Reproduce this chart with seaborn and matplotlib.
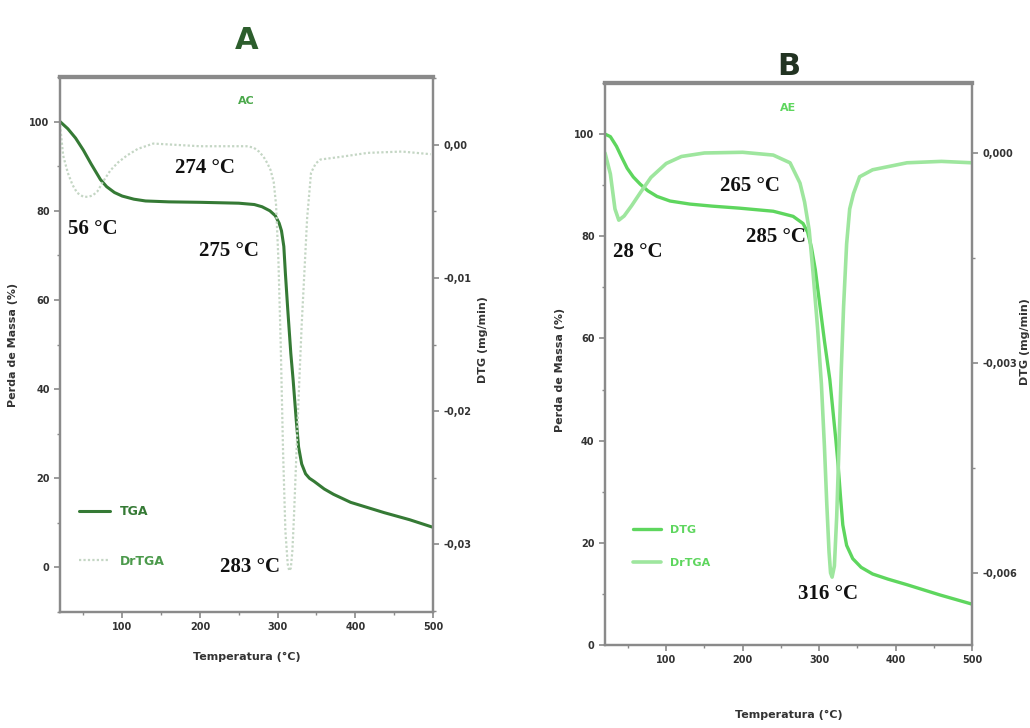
import numpy as np
import pandas as pd
import seaborn as sns
import matplotlib
matplotlib.use("Agg")
import matplotlib.pyplot as plt
from matplotlib.ticker import FuncFormatter, AutoMinorLocator

sns.set_theme(style="white")
plt.rcParams['font.family'] = ['Liberation Sans Narrow', 'DejaVu Sans']

# ---------------- Data: panel A (AC) ----------------
a_tga_T = [20, 30, 40, 50, 60, 72, 80, 90, 100, 115, 130, 160, 200, 250, 270, 280, 290, 297, 302, 305, 308, 310, 313,
           317, 320, 324, 327, 331, 336, 341, 347, 360, 372, 394, 437, 470, 500]
a_tga_m = [100, 98.4, 96.3, 93.6, 90.5, 87.0, 85.4, 84.1, 83.3, 82.6, 82.2, 82.0, 81.9, 81.7, 81.4, 80.9, 80.0, 78.9,
           77.2, 75.5, 72, 66, 58, 48, 42, 33, 27, 23.2, 21, 20.0, 19.3, 17.6, 16.4, 14.6, 12.3, 10.7, 9]

a_dtg_T = [20, 24, 30, 36, 42, 50, 56, 62, 68, 76, 85, 95, 106, 120, 140, 200, 260, 269, 276, 282, 287, 291, 295, 298,
           301, 304, 307, 310, 313, 315, 317, 319, 321, 324, 327, 331, 334, 338, 343, 349, 355, 368, 381, 416, 460, 497]
a_dtg_v = [0.0015, -0.0008, -0.0021, -0.0030, -0.0036, -0.0039, -0.0039, -0.0038, -0.0035, -0.0027, -0.0019, -0.0013,
           -0.0008, -0.0003, 0.0001, -0.0001, -0.0001, -0.0002, -0.0005, -0.0009, -0.0014, -0.0019, -0.0028, -0.0045,
           -0.0086, -0.0150, -0.0230, -0.0290, -0.0315, -0.0320, -0.0318, -0.0305, -0.0280, -0.0235, -0.0190, -0.0135,
           -0.0101, -0.0055, -0.0021, -0.0014, -0.0011, -0.0010, -0.0009, -0.0006, -0.0005, -0.0007]

# ---------------- Data: panel B (AE) ----------------
b_tga_T = [20, 27, 35, 42, 49, 57, 66, 76, 88, 105, 131, 160, 196, 240, 266, 279, 285, 290, 295, 301, 307, 314, 318,
           322, 325, 328, 331, 336, 344, 355, 370, 390, 415, 458, 500]
b_tga_m = [100, 99.5, 97.6, 95.4, 93.3, 91.6, 90.2, 88.9, 87.8, 86.9, 86.3, 85.9, 85.5, 84.9, 83.9, 82.5, 80.8, 77.8,
           73.5, 66.5, 59.5, 52, 46, 40, 35, 29, 23.5, 19.5, 16.9, 15.2, 13.9, 12.9, 11.8, 9.8, 8]

b_dtg_T = [20, 27, 33, 38, 45, 55, 66, 80, 100, 120, 150, 200, 240, 262, 275, 281, 287, 292, 298, 303, 307, 310, 313,
           315, 317, 320, 323, 326, 329, 332, 336, 340, 345, 353, 370, 415, 460, 500]
b_dtg_v = [0.0, -0.0003, -0.0008, -0.00096, -0.0009, -0.00075, -0.00057, -0.00035, -0.00015, -0.00005, 0.0, 0.00001,
           -0.00003, -0.00014, -0.00043, -0.0007, -0.0011, -0.0017, -0.0025, -0.0033, -0.0042, -0.0050, -0.0057,
           -0.0060, -0.00606, -0.0059, -0.0052, -0.0042, -0.0031, -0.0022, -0.0013, -0.0008, -0.00058, -0.00034,
           -0.00024, -0.00014, -0.00012, -0.00014]

x_ticks = [100, 200, 300, 400, 500]

spine_col = "#8a8a8a"
a_dark = "#357a35"
a_light = "#c4d6c4"
b_tga_col = "#5ed65e"
b_dtg_col = "#9ee69e"

fig = plt.figure(figsize=(10.3, 7.28), dpi=100)

def style_axes(ax, ax2):
    for a in (ax, ax2):
        for s in a.spines.values():
            s.set_color(spine_col)
            s.set_linewidth(1.6)
        a.spines['top'].set_linewidth(3)
    ax.tick_params(axis='both', which='major', direction='out', length=4, width=1.2, color=spine_col,
                   labelsize=7, labelcolor="#333333", left=True, bottom=True)
    ax.tick_params(axis='both', which='minor', direction='out', length=2.5, width=1, color=spine_col,
                   left=True, bottom=True)
    ax2.tick_params(axis='y', which='major', direction='out', length=4, width=1.2, color=spine_col,
                    labelsize=7, labelcolor="#333333", right=True)
    ax2.tick_params(axis='y', which='minor', direction='out', length=2.5, width=1, color=spine_col, right=True)
    for lab in ax.get_xticklabels() + ax.get_yticklabels() + ax2.get_yticklabels():
        lab.set_fontweight('bold')

ann_font = dict(family=['Liberation Serif', 'DejaVu Serif'], fontsize=15, fontweight='bold', color='#111111')

# ---------------- Panel A ----------------
axA = fig.add_axes([0.0583, 0.1593, 0.3621, 0.7349])
axA2 = axA.twinx()
sns.lineplot(x=a_tga_T, y=a_tga_m, ax=axA, color=a_dark, lw=2.2, label="TGA", legend=False)
sns.lineplot(x=a_dtg_T, y=a_dtg_v, ax=axA2, color=a_light, lw=1.6, linestyle=(0, (1, 1)), label="DrTGA", legend=False)
axA.set_xlim(20, 500)
axA.set_ylim(-10, 110)
axA2.set_ylim(-0.0351, 0.0051)
axA.set_xticks(x_ticks)
axA.set_yticks([0, 20, 40, 60, 80, 100])
axA.xaxis.set_minor_locator(AutoMinorLocator(2))
axA.yaxis.set_minor_locator(AutoMinorLocator(2))
axA2.set_yticks([0.0, -0.01, -0.02, -0.03])
axA2.yaxis.set_minor_locator(AutoMinorLocator(2))
axA2.yaxis.set_major_formatter(FuncFormatter(lambda v, p: f"{v:.2f}".replace('.', ',').replace('-0,00', '0,00')))
axA.set_xlabel("Temperatura (°C)", fontsize=8, fontweight='bold', color='#333333', labelpad=14)
axA.set_ylabel("Perda de Massa (%)", fontsize=8, fontweight='bold', color='#333333')
axA2.set_ylabel("DTG (mg/min)", fontsize=8, fontweight='bold', color='#333333')
axA.yaxis.set_label_coords(-0.113, 0.5)
axA2.yaxis.set_label_coords(1.12, 0.51)
style_axes(axA, axA2)
hA = axA.get_lines() + axA2.get_lines()
legA = axA.legend(hA, ["TGA", "DrTGA"], loc='lower left', bbox_to_anchor=(0.02, 0.062), frameon=False,
                  fontsize=9, handlelength=2.5, labelspacing=2.9, labelcolor=[a_dark, "#4c9a4c"])
for t in legA.get_texts():
    t.set_fontweight('bold')
axA.set_title("A", fontsize=22, fontweight='bold', color="#2d5e2d", pad=20,
              family=['DejaVu Sans'])
axA.text(0.5, 0.955, "AC", transform=axA.transAxes, ha='center', va='center', fontsize=8,
         fontweight='bold', color="#4aa84a")
axA.text(30, 76, "56 °C", ha='left', va='center', **ann_font)
axA.text(207, 89.5, "274 °C", ha='center', va='center', **ann_font)
axA.text(237, 71, "275 °C", ha='center', va='center', **ann_font)
axA.text(265, 0, "283 °C", ha='center', va='center', **ann_font)

# ---------------- Panel B ----------------
axB = fig.add_axes([0.5874, 0.1140, 0.3563, 0.7720])
axB2 = axB.twinx()
sns.lineplot(x=b_tga_T, y=b_tga_m, ax=axB, color=b_tga_col, lw=2.4, label="DTG", legend=False)
sns.lineplot(x=b_dtg_T, y=b_dtg_v, ax=axB2, color=b_dtg_col, lw=2.6, label="DrTGA", legend=False)
axB.set_xlim(20, 500)
axB.set_ylim(0, 110)
axB2.set_ylim(-0.00703, 0.0010)
axB.set_xticks(x_ticks)
axB.set_yticks([0, 20, 40, 60, 80, 100])
axB.xaxis.set_minor_locator(AutoMinorLocator(2))
axB.yaxis.set_minor_locator(AutoMinorLocator(2))
axB2.set_yticks([0.0, -0.003, -0.006])
axB2.yaxis.set_minor_locator(AutoMinorLocator(2))
axB2.yaxis.set_major_formatter(FuncFormatter(lambda v, p: f"{v:.3f}".replace('.', ',').replace('-0,000', '0,000')))
axB.set_xlabel("Temperatura (°C)", fontsize=8, fontweight='bold', color='#333333', labelpad=32)
axB.set_ylabel("Perda de Massa (%)", fontsize=8, fontweight='bold', color='#333333')
axB2.set_ylabel("DTG (mg/min)", fontsize=8, fontweight='bold', color='#333333')
axB.yaxis.set_label_coords(-0.109, 0.49)
axB2.yaxis.set_label_coords(1.13, 0.54)
style_axes(axB, axB2)
hB = axB.get_lines() + axB2.get_lines()
legB = axB.legend(hB, ["DTG", "DrTGA"], loc='lower left', bbox_to_anchor=(0.05, 0.12), frameon=False,
                  fontsize=8, handlelength=2.5, labelspacing=2.0, labelcolor=[b_tga_col, b_tga_col])
for t in legB.get_texts():
    t.set_fontweight('bold')
axB.set_title("B", fontsize=22, fontweight='bold', color="#223322", pad=6,
              family=['DejaVu Sans'])
axB.text(0.5, 0.955, "AE", transform=axB.transAxes, ha='center', va='center', fontsize=8,
         fontweight='bold', color="#5ed65e")
axB.text(30, 77, "28 °C", ha='left', va='center', **ann_font)
axB.text(210, 89.8, "265 °C", ha='center', va='center', **ann_font)
axB.text(243, 79.8, "285 °C", ha='center', va='center', **ann_font)
axB.text(311, 10, "316 °C", ha='center', va='center', **ann_font)

fig.savefig("out.png", dpi=100, facecolor='white')
